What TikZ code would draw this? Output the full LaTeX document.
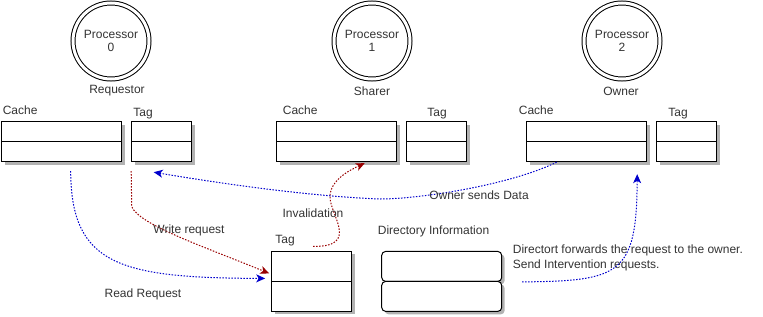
\documentclass[tikz,border=0pt]{standalone}
\usepackage{fontspec}
\setmainfont{Liberation Sans}
\usetikzlibrary{arrows.meta,shadows}
\definecolor{readblue}{RGB}{0,0,204}
\definecolor{invred}{RGB}{153,0,0}
\definecolor{txtgray}{RGB}{51,51,51}

\begin{document}
\begin{tikzpicture}[x=1pt,y=-1pt,line width=1pt,
  every node/.style={font=\fontsize{12}{13.5}\selectfont,text=txtgray},
  proc/.style={circle,draw,double,double distance=3pt,minimum size=76pt,inner sep=0pt,align=center},
  mem/.style={draw,fill=white,inner sep=0pt,minimum height=40pt,
    drop shadow={shadow xshift=3pt,shadow yshift=-3pt,fill=black!30,opacity=1},
    path picture={\draw (path picture bounding box.west) -- (path picture bounding box.east);}},
  dirrow/.style={draw,fill=white,rounded corners=4pt,inner sep=0pt,minimum width=120pt,minimum height=30pt,
    drop shadow={shadow xshift=3pt,shadow yshift=-3pt,fill=black!30,opacity=1}},
  msg/.style={line width=1pt,dash pattern=on 1.5pt off 1.5pt,-{Stealth[length=9pt,width=8pt,inset=2.5pt]}}]
  \useasboundingbox (0,0) rectangle (763,316);
  % processors
  \node[proc] (p0) at (111,41) {Processor\\0};
  \node[proc] (p1) at (372,41) {Processor\\1};
  \node[proc] (p2) at (622,41) {Processor\\2};
  \node at (117,91) {Requestor};
  \node at (372,91) {Sharer};
  \node at (621,91) {Owner};
  % caches and tags
  \node[mem,minimum width=120pt] (c0) at (61.7,141.7) {};
  \node[mem,minimum width=60pt] (t0) at (161.7,141.7) {};
  \node[mem,minimum width=120pt] (c1) at (336.7,141.7) {};
  \node[mem,minimum width=60pt] (t1) at (436.7,141.7) {};
  \node[mem,minimum width=120pt] (c2) at (586.7,141.7) {};
  \node[mem,minimum width=60pt] (t2) at (686.7,141.7) {};
  \node[anchor=west] at (-1,110) {Cache};
  \node at (143,114) {Tag};
  \node[anchor=west] at (279,110) {Cache};
  \node at (437,114) {Tag};
  \node[anchor=west] at (515,110) {Cache};
  \node at (678,114) {Tag};
  % directory
  \node[mem,minimum width=80pt,minimum height=60pt] (dt) at (311.7,281.4) {};
  \node at (285,241) {Tag};
  \node[dirrow] (di1) at (441.7,266.4) {};
  \node[dirrow] (di2) at (441.7,296.4) {};
  \node[anchor=west] at (374,231) {Directory Information};
  \node[anchor=west,align=left,font=\fontsize{12}{15}\selectfont] at (509,257.5)
    {Directort forwards the request to the owner.\\Send Intervention requests.};
  % messages
  \coordinate (rd0) at ([xshift=9pt,yshift=-9pt]c0.south);
  \coordinate (wr0) at ([yshift=-9pt]t0.south west);
  \coordinate (inv0) at ([xshift=1.5pt,yshift=4.5pt]dt.north);
  \coordinate (inv1) at ([xshift=28pt,yshift=-1pt]c1.south);
  \coordinate (own0) at ([xshift=-30pt]c2.south);
  \coordinate (own1) at ([xshift=-8pt,yshift=-10pt]t0.south);
  \coordinate (fwd0) at ([xshift=20pt]di1.south east);
  \coordinate (fwd1) at ([xshift=-10pt,yshift=-12pt]c2.south east);
  \draw[msg,readblue] (rd0) .. controls (71,265) and (120,278) .. ([xshift=-6pt,yshift=3pt]dt.west);
  \draw[msg,invred] (wr0) -- (131.7,206.7) .. controls (140,225) and (200,245) .. ([xshift=-2pt,yshift=8pt]dt.west);
  \draw[msg,invred] (inv0) .. controls (360,247) and (330,215) .. (330,197) .. controls (330,180) and (350,170) .. (inv1);
  \draw[msg,readblue] (own0) .. controls (510,185) and (420,199) .. (380,199) .. controls (300,196) and (200,180) .. (own1);
  \draw[msg,readblue] (fwd0) .. controls (620,281) and (636.7,275) .. (fwd1);
  \node at (189,230) {Write request};
  \node at (143,294) {Read Request};
  \node at (313,213) {Invalidation};
  \node at (479,195) {Owner sends Data};
\end{tikzpicture}
\end{document}
